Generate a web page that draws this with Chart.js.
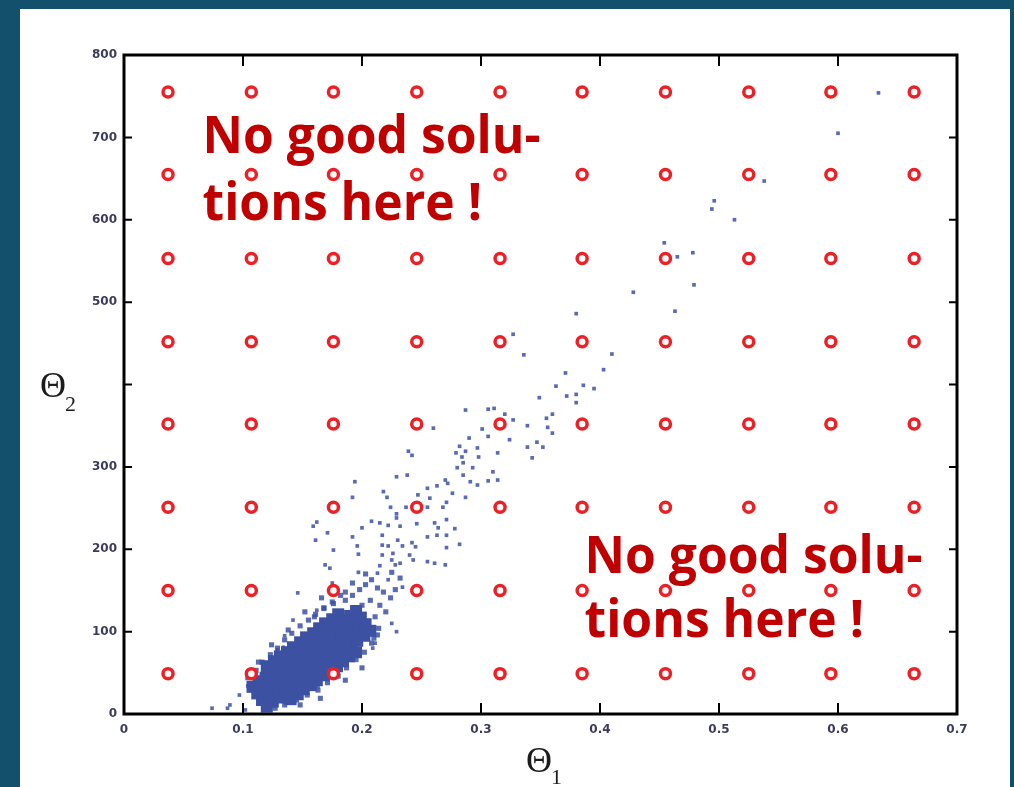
<!DOCTYPE html>
<html>
<head>
<meta charset="utf-8">
<style>
  html, body { margin: 0; padding: 0; background: #12506b; }
  #wrap { width: 1014px; height: 787px; position: relative; }
</style>
</head>
<body>
<div id="wrap"><canvas id="myChart"></canvas></div>
<script src="https://cdn.jsdelivr.net/npm/chart.js@4.4.2/dist/chart.umd.min.js"></script>
<script>
// sampled parameter grid (red circles)
const gridTheta1 = [0.037, 0.107, 0.176, 0.246, 0.316, 0.385, 0.455, 0.525, 0.594, 0.664];
const gridTheta2 = [49, 150, 251, 352, 452, 553, 655, 755];

// dense core of the accepted samples
const coreX = [
  0.108, 0.112, 0.116, 0.120,
  0.113, 0.117, 0.121, 0.125,
  0.119, 0.123, 0.127, 0.131,
  0.120, 0.124, 0.128, 0.132, 0.136, 0.140,
  0.126, 0.130, 0.134, 0.138, 0.142, 0.146,
  0.131, 0.135, 0.139, 0.143, 0.147, 0.151,
  0.137, 0.141, 0.145, 0.149, 0.153, 0.157,
  0.142, 0.146, 0.150, 0.154, 0.158, 0.162,
  0.148, 0.152, 0.156, 0.160, 0.164, 0.168,
  0.153, 0.157, 0.161, 0.165, 0.169, 0.173,
  0.159, 0.163, 0.167, 0.171, 0.175, 0.179,
  0.164, 0.168, 0.172, 0.176, 0.180, 0.184,
  0.169, 0.173, 0.177, 0.181, 0.185, 0.189,
  0.175, 0.179, 0.183, 0.187, 0.191, 0.195,
  0.180, 0.184, 0.188, 0.192, 0.196,
  0.190, 0.194, 0.198, 0.202,
  0.195, 0.199, 0.203, 0.207
];
const coreY = [
  33, 25, 17, 9,
  39, 31, 23, 15,
  44, 36, 28, 20,
  58, 50, 42, 34, 26, 18,
  64, 56, 48, 40, 32, 24,
  70, 62, 54, 46, 38, 30,
  75, 67, 59, 51, 43, 35,
  81, 73, 65, 57, 49, 41,
  87, 79, 71, 63, 55, 47,
  93, 85, 77, 69, 61, 53,
  98, 90, 82, 74, 66, 58,
  104, 96, 88, 80, 72, 64,
  110, 102, 94, 86, 78, 70,
  115, 107, 99, 91, 83, 75,
  121, 113, 105, 97, 89,
  119, 111, 103, 95,
  125, 117, 109, 101
];

// half-dense zone above the core and the ragged rim round it
const midX = [
  0.186, 0.192, 0.198, 0.203, 0.208, 0.213, 0.218, 0.224, 0.207, 0.200,
  0.194, 0.215, 0.220, 0.211, 0.228, 0.232, 0.187, 0.225, 0.203, 0.192,
  0.182, 0.168, 0.176, 0.160, 0.214, 0.210,
  0.104, 0.111, 0.116, 0.123, 0.129, 0.135, 0.141, 0.148, 0.155, 0.161,
  0.168, 0.175, 0.186, 0.113, 0.124, 0.138, 0.152, 0.166,
  0.127, 0.135, 0.145, 0.154, 0.163, 0.171, 0.180, 0.187, 0.195, 0.202,
  0.208, 0.213, 0.148, 0.165, 0.186, 0.200
];
const midY = [
  138, 144, 151, 157, 163, 153, 148, 141, 138, 132,
  124, 132, 124, 118, 151, 165, 117, 172, 170, 159,
  144, 128, 134, 118, 104, 92,
  44, 53, 63, 72, 80, 90, 98, 107, 114, 121,
  129, 136, 148, 63, 84, 102, 124, 141,
  7, 11, 17, 23, 29, 38, 46, 56, 66, 75,
  86, 96, 11, 19, 41, 56
];

// scattered samples
const scatterX = [
  0.634, 0.600, 0.538, 0.496, 0.494, 0.513, 0.454, 0.465, 0.478, 0.428,
  0.479, 0.463, 0.380, 0.327, 0.336, 0.410, 0.403, 0.371, 0.363, 0.386,
  0.395, 0.380, 0.349, 0.372, 0.380, 0.360, 0.355, 0.287, 0.306, 0.311,
  0.320, 0.327, 0.339, 0.356, 0.360, 0.260, 0.301, 0.306, 0.290, 0.324,
  0.347, 0.339, 0.352, 0.282, 0.297, 0.287, 0.279, 0.284, 0.298, 0.314,
  0.343, 0.239, 0.242, 0.285, 0.280, 0.293, 0.310, 0.314, 0.285, 0.291,
  0.297, 0.306, 0.270, 0.272, 0.276, 0.287, 0.263, 0.255, 0.229, 0.238,
  0.194, 0.192, 0.218, 0.221, 0.247, 0.257, 0.271, 0.268, 0.224, 0.255,
  0.237, 0.229, 0.229, 0.208, 0.215, 0.222, 0.232, 0.246, 0.261, 0.271,
  0.264, 0.278, 0.200, 0.162, 0.159, 0.171, 0.161, 0.192, 0.217, 0.217,
  0.222, 0.230, 0.234, 0.242, 0.245, 0.255, 0.263, 0.271, 0.282, 0.271,
  0.196, 0.176, 0.197, 0.217, 0.226, 0.240, 0.225, 0.232, 0.243, 0.255,
  0.261, 0.270, 0.169, 0.173, 0.215, 0.175, 0.146, 0.142, 0.135, 0.134,
  0.118, 0.108, 0.097, 0.074, 0.087, 0.102, 0.162, 0.129, 0.113, 0.104,
  0.089, 0.197, 0.213, 0.228, 0.222, 0.234, 0.225, 0.229, 0.211, 0.209,
  0.192, 0.163, 0.146, 0.129, 0.118
];
const scatterY = [
  754, 705, 647, 623, 613, 600, 572, 555, 560, 512,
  521, 489, 486, 461, 436, 437, 418, 414, 398, 399,
  395, 388, 384, 386, 378, 364, 359, 369, 370, 371,
  364, 357, 350, 348, 341, 347, 346, 337, 335, 333,
  330, 324, 324, 325, 323, 319, 317, 312, 312, 317,
  311, 319, 314, 305, 299, 299, 294, 284, 290, 282,
  278, 283, 284, 280, 268, 263, 277, 274, 288, 290,
  282, 263, 270, 263, 266, 262, 257, 251, 251, 251,
  251, 243, 238, 234, 232, 229, 228, 231, 232, 236,
  226, 225, 226, 233, 228, 220, 211, 215, 217, 205,
  204, 211, 204, 208, 203, 215, 217, 217, 206, 202,
  204, 199, 194, 193, 195, 193, 187, 183, 187, 185,
  183, 181, 181, 177, 180, 159, 147, 114, 95, 81,
  59, 35, 23, 7, 7, 5, 126, 78, 45, 34,
  11, 172, 171, 181, 163, 154, 110, 100, 86, 80,
  66, 33, 23, 17, 8
];

const xTickLabels = ['0', '0.1', '0.2', '0.3', '0.4', '0.5', '0.6', '0.7'];
const yTickLabels = ['0', '100', '200', '300', '', '500', '600', '700', '800'];
const noteLines = ['No good solu-', 'tions here !'];

function pairs(xs, ys) {
  return xs.map((x, i) => ({ x: x, y: ys[i] }));
}

const gridPoints = [];
gridTheta1.forEach(function (t1) {
  gridTheta2.forEach(function (t2) { gridPoints.push({ x: t1, y: t2 }); });
});

const blue = '#3d51a3';
const red = '#ec2027';

// teal slide background with the white panel
const panelBg = {
  id: 'panelBg',
  beforeDraw(chart) {
    const ctx = chart.ctx;
    ctx.save();
    ctx.fillStyle = '#12506b';
    ctx.fillRect(0, 0, chart.width, chart.height);
    ctx.fillStyle = '#ffffff';
    ctx.fillRect(20, 9, 990, chart.height - 9);
    ctx.restore();
  }
};

// the two red notes, anchored in data units
const notes = [
  { x: 0.066, y1: 681, y2: 600 },
  { x: 0.387, y1: 171, y2: 93 }
];
const notePlugin = {
  id: 'notes',
  afterDatasetsDraw(chart) {
    const ctx = chart.ctx;
    const sx = chart.scales.x, sy = chart.scales.y;
    ctx.save();
    ctx.font = 'bold 52px "Open Sans"';
    ctx.fillStyle = '#c00000';
    ctx.textBaseline = 'alphabetic';
    const k = 338 / ctx.measureText(noteLines[0]).width;
    notes.forEach(function (n) {
      const px = sx.getPixelForValue(n.x);
      [n.y1, n.y2].forEach(function (yv, i) {
        ctx.save();
        ctx.translate(px, sy.getPixelForValue(yv));
        ctx.scale(k, 1);
        ctx.fillText(noteLines[i], 0, 0);
        ctx.restore();
      });
    });
    ctx.restore();
  }
};

// boxed frame with inward ticks, plus axis titles
const framePlugin = {
  id: 'frame',
  afterDraw(chart) {
    const ctx = chart.ctx;
    const a = chart.chartArea;
    const sx = chart.scales.x, sy = chart.scales.y;
    ctx.save();
    ctx.strokeStyle = '#000';
    ctx.lineWidth = 3;
    ctx.strokeRect(a.left, a.top, a.right - a.left, a.bottom - a.top);
    ctx.lineWidth = 2;
    ctx.beginPath();
    sx.ticks.forEach(function (t) {
      const p = sx.getPixelForValue(t.value);
      if (p < a.left + 2 || p > a.right - 2) return;
      ctx.moveTo(p, a.bottom); ctx.lineTo(p, a.bottom - 11);
      ctx.moveTo(p, a.top); ctx.lineTo(p, a.top + 11);
    });
    sy.ticks.forEach(function (t) {
      const p = sy.getPixelForValue(t.value);
      if (p < a.top + 2 || p > a.bottom - 2) return;
      ctx.moveTo(a.left, p); ctx.lineTo(a.left + 8, p);
      ctx.moveTo(a.right, p); ctx.lineTo(a.right - 8, p);
    });
    ctx.stroke();

    ctx.fillStyle = '#1c1c1c';
    ctx.textBaseline = 'alphabetic';
    ctx.font = '36px "Liberation Serif"';
    ctx.fillText('\u0398', 40, 397);
    ctx.fillText('\u0398', 526, 772);
    ctx.font = '22px "Liberation Serif"';
    ctx.fillText('2', 65, 411);
    ctx.fillText('1', 551, 784);
    ctx.restore();
  }
};

const tickFont = { family: 'DejaVu Sans', size: 12, weight: 'bold' };

const ctx = document.getElementById('myChart');
const myChart = new Chart(ctx, {
  type: 'scatter',
  data: {
    datasets: [
      {
        label: 'grid',
        data: gridPoints,
        pointStyle: 'circle',
        pointRadius: 5,
        pointBorderWidth: 3.5,
        pointBorderColor: red,
        pointBackgroundColor: '#ffffff',
        order: 0
      },
      {
        label: 'scatter',
        data: pairs(scatterX, scatterY),
        pointStyle: 'rect',
        pointRadius: 2.6,
        pointBorderWidth: 0,
        pointBackgroundColor: 'rgba(61,81,163,0.85)',
        order: 1
      },
      {
        label: 'mid',
        data: pairs(midX, midY),
        pointStyle: 'rect',
        pointRadius: 3.6,
        pointBorderWidth: 0,
        pointBackgroundColor: 'rgba(61,81,163,0.85)',
        order: 2
      },
      {
        label: 'core',
        data: pairs(coreX, coreY),
        pointStyle: 'rect',
        pointRadius: 8.5,
        pointBorderWidth: 0,
        pointBackgroundColor: blue,
        order: 3
      }
    ]
  },
  options: {
    responsive: true,
    maintainAspectRatio: false,
    devicePixelRatio: 1,
    animation: false,
    events: [],
    layout: { padding: { top: 55, right: 57, left: 0, bottom: 0 } },
    plugins: { legend: { display: false }, tooltip: { enabled: false } },
    scales: {
      x: {
        type: 'linear',
        min: 0,
        max: 0.7,
        afterFit(s) { s.height = 73; },
        grid: { display: false, drawTicks: false },
        border: { display: false },
        ticks: {
          stepSize: 0.1,
          padding: 9,
          maxRotation: 0,
          autoSkip: false,
          font: tickFont,
          color: '#3b3b5c',
          callback: function (v, i) { return xTickLabels[i]; }
        }
      },
      y: {
        type: 'linear',
        min: 0,
        max: 800,
        afterFit(s) { s.width = 124; },
        grid: { display: false, drawTicks: false },
        border: { display: false },
        ticks: {
          stepSize: 100,
          padding: 7,
          autoSkip: false,
          font: tickFont,
          color: '#3b3b5c',
          callback: function (v, i) { return yTickLabels[i]; }
        }
      }
    }
  },
  plugins: [panelBg, notePlugin, framePlugin]
});
</script>
</body>
</html>
